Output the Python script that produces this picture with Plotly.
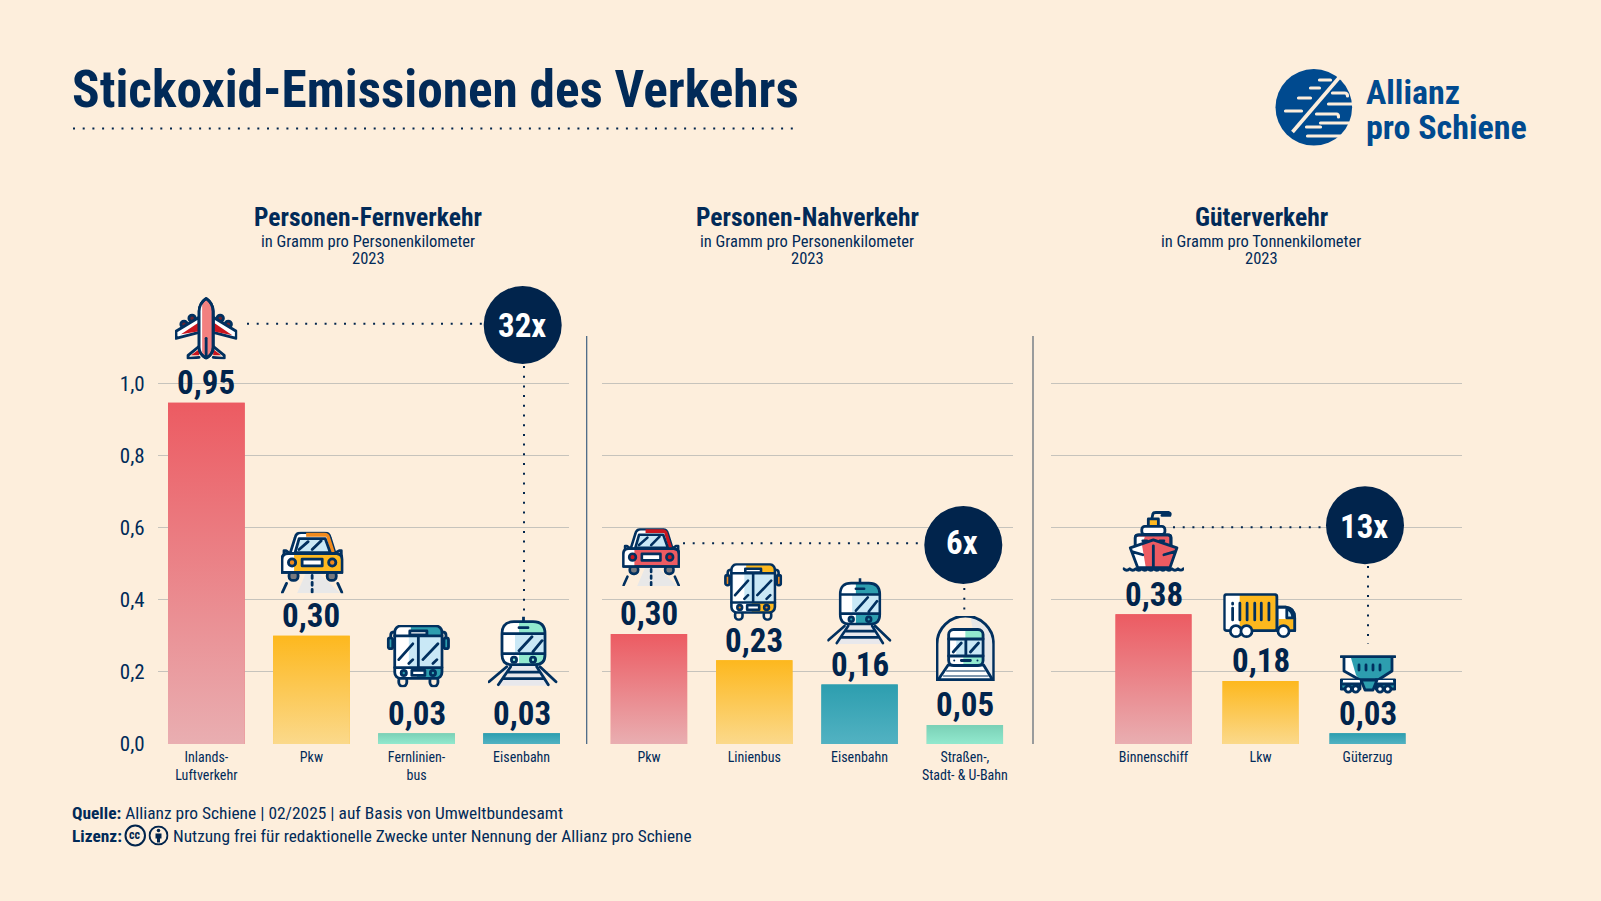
import base64
import plotly.graph_objects as go

# data
cats_fern = ["Inlands-<br>Luftverkehr", "Pkw", "Fernlinien-<br>bus", "Eisenbahn"]
vals_fern = [0.946, 0.30, 0.03, 0.03]
labels_fern = ["0,95", "0,30", "0,03", "0,03"]

cats_nah = ["Pkw", "Linienbus", "Eisenbahn", "Straßen-,<br>Stadt- & U-Bahn"]
vals_nah = [0.305, 0.232, 0.165, 0.053]
labels_nah = ["0,30", "0,23", "0,16", "0,05"]

cats_gueter = ["Binnenschiff", "Lkw", "Güterzug"]
vals_gueter = [0.36, 0.175, 0.03]
labels_gueter = ["0,38", "0,18", "0,03"]

y_ticks = [0, 0.2, 0.4, 0.6, 0.8, 1.0]

# colours
BG = "#FDEEDC"
NAVY = "#01244C"
TEXT = "#012A58"
GRID = "#C6C3BC"
RED = ("#EC5B62", "#E9AEB1")
YELLOW = ("#FDB81E", "#FBD98B")
TEAL = ("#2D9EAF", "#52B2C2")
MINT = ("#7AD0B6", "#92E9CE")

FONT = "Liberation Sans Narrow, Roboto Condensed, Arial Narrow, sans-serif"
W, H = 1601, 901
Y0, PX_PER_UNIT, Y_TOP = 744, 360.7, 1.05


def px(x):
    return x / W


def py(y):
    return 1 - y / H


fig = go.Figure()
shapes = []
annos = []

panels = [
    ("x", "y", cats_fern, vals_fern, labels_fern, [RED, YELLOW, MINT, TEAL], 157.7, 569, -0.463, 3.451, 0.73),
    ("x2", "y2", cats_nah, vals_nah, labels_nah, [RED, YELLOW, TEAL, MINT], 602, 1013, -0.446, 3.457, 0.725),
    ("x3", "y3", cats_gueter, vals_gueter, labels_gueter, [RED, YELLOW, TEAL], 1051, 1461.7, -0.958, 2.88, 0.71),
]

for i, (xa, ya, cats, vals, labels, colors, left, right, r0, r1, bar_w) in enumerate(panels):
    xs = list(range(len(cats)))
    fig.add_trace(go.Bar(
        x=xs, y=vals, xaxis=xa, yaxis=ya, width=bar_w,
        marker=dict(color=[c[0] for c in colors], line=dict(width=0)),
    ))
    # gradient sits on top of the bar, same value
    for k, v in enumerate(vals):
        a, b = k - bar_w / 2, k + bar_w / 2
        fig.add_trace(go.Scatter(
            x=[a, a, b, b, a], y=[0, v, v, 0, 0], xaxis=xa, yaxis=ya, mode="none", fill="toself",
            fillgradient=dict(type="vertical", colorscale=[[0, colors[k][1]], [1, colors[k][0]]]),
            hoverinfo="skip",
        ))
        annos.append(dict(xref=xa, yref=ya, x=k, y=v, text=labels[k], showarrow=False, yanchor="middle",
                          yshift=20, font=dict(family=FONT, size=33, color=NAVY, weight=700)))
    suffix = "" if i == 0 else str(i + 1)
    fig.update_layout({
        "xaxis" + suffix: dict(
            domain=[px(left), px(right)], range=[r0, r1], tickmode="array", tickvals=xs, ticktext=cats,
            showgrid=False, zeroline=False, showline=False, ticks="", anchor="y" + suffix, automargin=False,
            tickfont=dict(family=FONT, size=14, color=TEXT), tickangle=0, ticklabelstandoff=3,
        ),
        "yaxis" + suffix: dict(
            domain=[py(Y0), py(Y0 - PX_PER_UNIT * Y_TOP)], range=[0, Y_TOP], anchor="x" + suffix, automargin=False,
            tickmode="array", tickvals=y_ticks, showticklabels=(i == 0), tickformat=".1f",
            showgrid=True, gridcolor=GRID, gridwidth=1.3, zeroline=False, showline=False, ticks="",
            tickfont=dict(family=FONT, size=21, color=TEXT), ticklabelstandoff=12,
        ),
    })


def dotted(x0, y0, x1, y1):
    shapes.append(dict(type="line", xref="paper", yref="paper", x0=px(x0), y0=py(y0), x1=px(x1), y1=py(y1),
                       line=dict(color=NAVY, width=2, dash="2px,7.7px")))


def text(x, y, s, size, anchor="left", color=TEXT):
    annos.append(dict(xref="paper", yref="paper", x=px(x), y=py(y), text=s, showarrow=False, xanchor=anchor,
                      yanchor="middle", align=anchor, font=dict(family=FONT, size=size, color=color),
                      borderpad=0, borderwidth=0))


# title block
text(72, 89, "<b>Stickoxid-Emissionen des Verkehrs</b>", 51.3, color="#012A58")
dotted(73, 128.5, 796, 128.5)

# panel headings
for cx, head, sub in [(368, "Personen-Fernverkehr", "in Gramm pro Personenkilometer"),
                      (807, "Personen-Nahverkehr", "in Gramm pro Personenkilometer"),
                      (1261, "Güterverkehr", "in Gramm pro Tonnenkilometer")]:
    text(cx, 217, "<b>" + head + "</b>", 25.5, "center")
    text(cx, 241.5, sub, 16.5, "center")
    text(cx, 258, "2023", 16.5, "center")

# dividers
shapes.append(dict(type="line", xref="paper", yref="paper", x0=px(586.7), x1=px(586.7), y0=py(336), y1=py(744),
                   line=dict(color="#3F5F80", width=1.2)))
shapes.append(dict(type="line", xref="paper", yref="paper", x0=px(1033), x1=px(1033), y0=py(336), y1=py(744),
                   line=dict(color="#80868C", width=1.6)))

# factor bubbles
dotted(247, 323.7, 484, 323.7)
dotted(524, 366, 524, 617)
dotted(683, 543.3, 925, 543.3)
dotted(964.3, 588, 964.3, 610)
dotted(1173, 527.3, 1327, 527.3)
dotted(1368, 566, 1368, 644)
for cx, cy, ty, s in [(522.7, 325, 325.5, "32x"), (963.3, 545, 542.5, "6x"), (1365, 525.3, 526, "13x")]:
    shapes.append(dict(type="circle", xref="paper", yref="paper", x0=px(cx - 39), x1=px(cx + 39),
                       y0=py(cy + 39), y1=py(cy - 39), fillcolor=NAVY, line=dict(width=0)))
    text(cx - 1, ty, "<b>" + s + "</b>", 33, "center", "#FFFFFF")

# footer
text(72, 812.5, "<b>Quelle:</b> Allianz pro Schiene | 02/2025 | auf Basis von Umweltbundesamt", 17.4)
text(72, 835.5, "<b>Lizenz:</b>", 17.4)
text(173, 835.5, "Nutzung frei für redaktionelle Zwecke unter Nennung der Allianz pro Schiene", 17.3)
text(135.4, 835, "<b>cc</b>", 12, "center", NAVY)

# logo words, two separate lines
text(1366, 92, "<b>Allianz</b>", 34, color="#004A8F")
text(1366, 127, "<b>pro Schiene</b>", 34, color="#004A8F")

S = "#01305F"
SW = 'stroke="%s" stroke-width="2.8" stroke-linecap="round" stroke-linejoin="round"' % S
SKY = "#C9E8F6"


def car(a, dark):
    return f'''<path d="M16 62 L25 41 H37 L59 62Z" fill="#E8E8E8"/>
<rect x="8" y="40" width="9" height="9" rx="4" fill="#77797E" {SW}/><rect x="46" y="40" width="9" height="9" rx="4" fill="#77797E" {SW}/>
<path d="M9 22 L14 6 Q15 1 20 1 H43 Q48 1 49 6 L54 22Z" fill="#FFF" {SW}/>
<path d="M25 1 H43 Q48 1 49 6 L54 22 H50 L45 5 H25Z" fill="{dark}"/>
<path d="M14 21 L18 7 H44 L49 21Z" fill="{SKY}" {SW}/><path d="M18 18 L27 10 M31 18 L40 9" fill="none" {SW}/>
<path d="M9 22 L5 19 H3 V24 M53 22 L58 19 H60 V24" fill="none" {SW}/>
<path d="M1 28 Q1 22 7 22 H55 Q61 22 61 28 V41 H1Z" fill="{a}" {SW}/><path d="M2 23 H13 V40 H2Z" fill="#FFF"/>
<path d="M1 28 Q1 22 7 22 H55 Q61 22 61 28 V41 H1Z" fill="none" {SW}/>
<circle cx="11" cy="31" r="3.6" fill="{dark}" {SW}/><circle cx="51" cy="31" r="3.6" fill="{dark}" {SW}/>
<rect x="21" y="27.5" width="20" height="7" fill="#FFF" {SW}/>
<path d="M31 44 V47 M31 51 V54 M31 58 V61 M5.5 52 L1 62 M56.5 52 L61 62" fill="none" {SW}/>'''


def bus(a, dark):
    return f'''<rect x="12" y="52" width="8" height="10" rx="4" fill="none" {SW}/><rect x="43" y="52" width="8" height="10" rx="4" fill="none" {SW}/>
<rect x="1.5" y="13" width="4.5" height="11" rx="2" fill="{dark}" {SW}/><rect x="57" y="13" width="4.5" height="11" rx="2" fill="{dark}" {SW}/>
<path d="M4 13 V10 Q4 7 8 7 M59 13 V10 Q59 7 55 7" fill="none" {SW}/>
<rect x="8" y="1" width="47" height="53" rx="6" fill="#FFF"/>
<path d="M24 1 H49 Q55 1 55 7 V11 H24Z M30 43 H55 V48 Q55 54 49 54 H30Z" fill="{a}"/>
<rect x="8" y="1" width="47" height="53" rx="6" fill="none" {SW}/>
<rect x="10" y="11" width="43" height="32" fill="{SKY}"/><path d="M10 11 H22 V43 H10Z" fill="#FFF"/>
<path d="M8 11 H55 M8 43 H55 M31.5 11 V43 M12 35 L26 19 M36 35 L51 19 M22 39 L26 35 M46 39 L50 35" fill="none" {SW}/>
<rect x="23" y="6" width="17" height="4" fill="#FFF" {SW}/>
<circle cx="17" cy="48.5" r="2.6" fill="{dark}" {SW}/><circle cx="46" cy="48.5" r="2.6" fill="{dark}" {SW}/>
<rect x="25" y="46" width="13" height="5" fill="#FFF" {SW}/>'''


def train(a):
    return f'''<path d="M18 49 H52 L62 69 H10Z" fill="#E8E8EC"/>
<path d="M35.5 0 V5 M18.7 50 L1 65 M52 50 L68 65 M22.7 50 L10.3 68 M48.7 50 L60.3 68 M19 55.5 H52 M15 62 H56" fill="none" {SW}/>
<path d="M14 17 Q14 5 26 5 H45 Q57 5 57 17 V38 Q57 48 47 48 H24 Q14 48 14 38Z" fill="#FFF"/>
<path d="M31 5 H45 Q57 5 57 17 H31Z M31 37 H57 V38 Q57 48 47 48 H31Z" fill="{a}"/>
<rect x="27" y="17" width="29" height="20" fill="{SKY}"/>
<path d="M14 17 Q14 5 26 5 H45 Q57 5 57 17 V38 Q57 48 47 48 H24 Q14 48 14 38Z M14 17 H57 M14 37 H57 M31 34 L44 20 M45 35 L54 24 M31 11 H40" fill="none" {SW}/>
<circle cx="26" cy="43" r="2.6" fill="{a}" {SW}/><circle cx="45" cy="43" r="2.6" fill="{a}" {SW}/>'''


plane = f'''<circle cx="9" cy="27" r="3.2" fill="#6C2430" {SW}/><circle cx="17" cy="21" r="3.2" fill="#6C2430" {SW}/><circle cx="45" cy="21" r="3.2" fill="#6C2430" {SW}/><circle cx="53" cy="27" r="3.2" fill="#6C2430" {SW}/>
<path d="M24 20 L1 34 V41 L24 35Z M38 20 L61 34 V41 L38 35Z" fill="#FFF" {SW}/>
<path d="M24 25 L6 37 L24 34Z M38 25 L57 38 L38 34Z M24 52 L16 58 L24 58Z M38 52 L46 58 L38 58Z" fill="#C8161F"/>
<path d="M24 49 L13 58 V61 L24 60 M38 49 L49 58 V61 L38 60" fill="none" {SW}/>
<path d="M31 1 Q24 6 24 14 V50 Q24 57 31 61 Q38 57 38 50 V14 Q38 6 31 1Z" fill="#F2807F" {SW}/>
<path d="M27 5 V57 L24 50 V14Z" fill="#FFF"/><path d="M31 1 Q24 6 24 14 V50 Q24 57 31 61 Q38 57 38 50 V14 Q38 6 31 1Z" fill="none" {SW}/>
<path d="M31 41 V61" fill="none" {SW}/>'''

tram = f'''<path d="M1 64 V28 A28 28 0 0 1 57 28 V64Z" fill="#FDEEDC"/><path d="M34 1 A28 28 0 0 1 57 28 V64 H46 L34 1Z" fill="#E8E8E8"/>
<path d="M12 49 L2 64 H56 L47 49Z" fill="#FFF" {SW}/><path d="M10 55 H49 M7 60 H52" stroke="#01305F" stroke-width="1.2"/>
<rect x="12.5" y="13.5" width="34" height="36" rx="5" fill="#FFF"/>
<path d="M29 14 H42 Q46 14 46 18 V23 H29Z M27 40 H46 V45 Q46 49 42 49 H27Z" fill="{MINT[1]}"/>
<rect x="14" y="23" width="31" height="17" fill="{SKY}"/><rect x="14" y="23" width="6" height="17" fill="#FFF"/>
<rect x="12.5" y="13.5" width="34" height="36" rx="5" fill="none" {SW}/>
<path d="M12.5 23 H46.5 M12.5 40 H46.5 M29.5 23 V40 M17 36 L25 27 M34 36 L42 27 M25 44.5 H34" fill="none" {SW}/>
<path d="M1 64 V28 A28 28 0 0 1 57 28 V64 M1 64 H57" fill="none" {SW}/><circle cx="18" cy="44.5" r="1" fill="{S}"/><circle cx="41" cy="44.5" r="1" fill="{S}"/>'''

ship = f'''<path d="M29 8 L30 3 Q30.5 1.5 33 1.5 H46 Q48 2 47 4.5 H39" fill="none" {SW}/>
<rect x="25.5" y="8" width="10" height="8" fill="#FDB81E" {SW}/><rect x="19" y="15.5" width="23" height="8" rx="3" fill="#FFF" {SW}/>
<path d="M12.5 37 V27 Q12.5 24 16 24 H45 Q48 24 48 27 V37Z" fill="{RED[0]}" {SW}/><path d="M13 26 H22 L18 37 H13Z" fill="#FFF"/>
<path d="M12.5 37 V27 Q12.5 24 16 24 H45 Q48 24 48 27 V37" fill="none" {SW}/><path d="M20 30 H24 M37 30 H41" fill="none" {SW}/>
<path d="M7.5 37 L30.5 29 L54 37 L47 57 H15Z" fill="{RED[0]}"/><path d="M7.5 37 L19 33 L23 57 H15Z" fill="#FFF"/>
<path d="M7.5 37 L30.5 29 L54 37 L47 57 H15Z M30.5 35 V57 M10 41 L20 44 M51 41 L41 44" fill="none" {SW}/>
<path d="M1 58 Q4 61 7 58 Q10 61 13 58 Q16 61 19 58 Q22 61 25 58 Q28 61 31 58 Q34 61 37 58 Q40 61 43 58 Q46 61 49 58 Q52 61 55 58 Q58 61 60.5 58" fill="none" {SW}/>'''

truck = f'''<path d="M54 14 H63 Q72 15 72 25 V38 H54Z" fill="#FFF" {SW}/><path d="M56 26 H71 V38 H56Z" fill="{YELLOW[0]}"/>
<path d="M64 16 Q70 18 70 25 H64Z" fill="{SKY}" {SW}/><path d="M54 14 H63 Q72 15 72 25 V38 H54Z" fill="none" {SW}/>
<rect x="1" y="1" width="53" height="37" rx="2.5" fill="#FFF"/><rect x="16.5" y="1" width="37" height="37" fill="{YELLOW[0]}"/>
<rect x="1" y="1" width="53" height="37" rx="2.5" fill="none" {SW}/>
<path d="M9.4 15 V27 M9.4 10 V11 M16.7 10 V27 M24 10 V27 M31.7 10 V27 M38.3 10 V27 M46 10 V27" fill="none" {SW}/>
<circle cx="12.7" cy="38.5" r="5.6" fill="#FFF" {SW}/><circle cx="23.4" cy="38.5" r="5.6" fill="#FFF" {SW}/><circle cx="60.7" cy="38.5" r="5.6" fill="#FFF" {SW}/>'''

wagon = f'''<path d="M4 3 V16 L20 25 H38 L52 16 V3Z" fill="#FFF"/><path d="M11 3 H52 V16 L38 25 H20 L16 20Z" fill="{TEAL[0]}"/>
<path d="M4 3 V16 L20 25 H38 L52 16 V3 M1 1.7 H55" fill="none" {SW}/><path d="M19 10 V15 M26 10 V15 M33 10 V15 M40 10 V15" fill="none" {SW}/>
<path d="M1 25 H20 V34 H1Z M36 25 H55 V34 H36Z" fill="{TEAL[0]}" {SW}/><path d="M3 25 H20 V29 H3Z M36 25 H53 V29 H36Z" fill="#FFF"/>
<path d="M3 29 H20 M36 29 H53" fill="none" {SW}/>
<path d="M21 25 H37 L33 35 H25Z" fill="{TEAL[0]}" {SW}/>
<circle cx="8.3" cy="34" r="3.2" fill="#FFF" {SW}/><circle cx="15.7" cy="34" r="3.2" fill="#FFF" {SW}/><circle cx="40" cy="34" r="3.2" fill="#FFF" {SW}/><circle cx="47.7" cy="34" r="3.2" fill="#FFF" {SW}/>'''

logo = '''<circle cx="39.3" cy="39.3" r="38.3" fill="#004A8F"/>
<g stroke="#FDEEDC" stroke-width="3.2" stroke-linecap="round" fill="none">
<path d="M45 12 H56 M36 20 H45 M24 30 H36 M11 43 H27 M58 25 H70 Q73 25 73 28 M54 36 H80 M42 46 H62 Q64 46 64 49 M46 55 H80 M32 59 H46 M33 68 H68"/></g>
<path d="M66 8 L18 64" stroke="#FDEEDC" stroke-width="3.6" fill="none"/>'''

person = f'''<circle cx="10" cy="10" r="9" fill="none" stroke="{NAVY}" stroke-width="2"/>
<circle cx="10" cy="5" r="1.8" fill="{NAVY}"/><path d="M7 8 H13 V13 H11.5 V17 H8.5 V13 H7Z" fill="{NAVY}"/>'''


def svg_uri(body, w, h):
    svg = f'<svg xmlns="http://www.w3.org/2000/svg" viewBox="0 0 {w} {h}" width="{w*3}" height="{h*3}">{body}</svg>'
    return "data:image/svg+xml;base64," + base64.b64encode(svg.encode("utf-8")).decode()


images = []
icons = [
    (plane, 62, 62, 175, 297.3, 62.3, 62),
    (car(YELLOW[0], "#F08A1D"), 62, 62, 281, 531.7, 62.3, 61.6),
    (bus(TEAL[0], TEAL[0]), 63, 63, 386.7, 625, 63.3, 62.3),
    (train(MINT[1]), 71, 70, 488, 616.7, 71, 70),
    (car(RED[0], "#C8161F"), 62, 62, 622.3, 528.3, 57.7, 57.7),
    (bus(YELLOW[0], "#F08A1D"), 63, 63, 724, 563.3, 58.3, 57.4),
    (train(TEAL[0]), 71, 70, 827.3, 578.3, 65.4, 66.7),
    (tram, 58, 65, 936, 616, 58.7, 65),
    (ship, 61, 62, 1122.7, 511, 61.3, 61.7),
    (truck, 74, 46, 1223.3, 593.3, 73.4, 45.3),
    (wagon, 56, 39, 1340, 655, 56, 39),
    (logo, 78.6, 78.6, 1274.5, 68, 78.6, 78.6),
    (person, 20, 20, 148.5, 825.5, 20, 20),
]
for body, vw, vh, x, y, w, h in icons:
    images.append(dict(source=svg_uri(body, vw, vh), xref="paper", yref="paper", x=px(x), y=py(y), sizex=w / W,
                       sizey=h / H, xanchor="left", yanchor="top", sizing="stretch", layer="above"))

shapes.append(dict(type="circle", xref="paper", yref="paper", x0=px(125.5), x1=px(145), y0=py(845.5), y1=py(825.5),
                   line=dict(color=NAVY, width=2)))

fig.update_layout(
    width=W, height=H, margin=dict(l=0, r=0, t=0, b=0, autoexpand=False), paper_bgcolor=BG, plot_bgcolor=BG,
    showlegend=False, separators=",.", hovermode=False, shapes=shapes, annotations=annos, images=images,
    barmode="overlay",
)

fig.write_html("out.html", config={"displayModeBar": False},
               post_script="document.body.style.margin='0';document.body.style.overflow='hidden';")
